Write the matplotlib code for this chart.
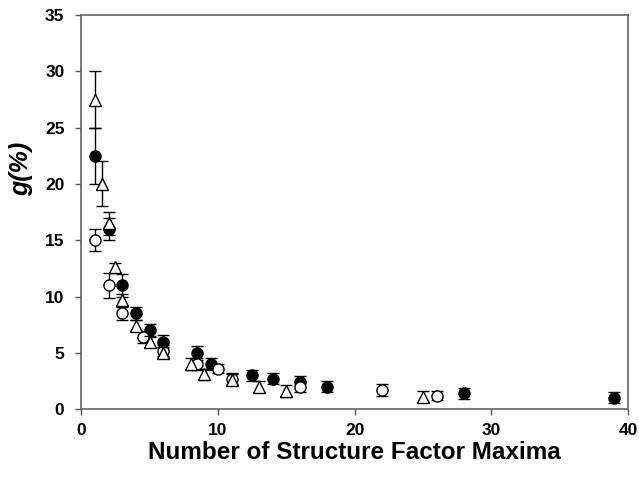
import matplotlib
matplotlib.use("Agg")
import matplotlib.pyplot as plt

plt.rcParams['font.family'] = ['Liberation Sans', 'DejaVu Sans']

# Filled circles
x_filled = [1, 2, 3, 4, 5, 6, 8.5, 9.5, 12.5, 14, 16, 18, 28, 39]
y_filled = [22.5, 16.0, 11.0, 8.5, 7.0, 6.0, 5.0, 4.0, 3.0, 2.7, 2.4, 2.0, 1.4, 1.0]
e_filled = [2.5, 1.0, 1.0, 0.6, 0.6, 0.6, 0.6, 0.5, 0.5, 0.5, 0.5, 0.5, 0.5, 0.5]

# Open circles
x_open = [1, 2, 3, 4.5, 6, 8.5, 10, 11, 16, 22, 26]
y_open = [15.0, 11.0, 8.5, 6.4, 5.2, 4.0, 3.6, 2.7, 2.0, 1.7, 1.2]
e_open = [1.0, 1.1, 0.55, 0.5, 0.5, 0.5, 0.4, 0.5, 0.5, 0.5, 0.4]

# Open triangles
x_tri = [1, 1.5, 2, 2.5, 3, 4, 5, 6, 8, 9, 11, 13, 15, 25]
y_tri = [27.5, 20.0, 16.5, 12.6, 9.7, 7.4, 6.0, 5.0, 4.0, 3.1, 2.6, 2.0, 1.6, 1.1]
e_tri = [2.5, 2.0, 1.0, 0.4, 0.5, 0.5, 0.5, 0.5, 0.5, 0.5, 0.5, 0.5, 0.5, 0.5]

x_ticks = [0, 10, 20, 30, 40]
y_ticks = [0, 5, 10, 15, 20, 25, 30, 35]

fig = plt.figure(figsize=(6.39, 4.87), dpi=100)
ax = fig.add_axes([0.127, 0.160, 0.856, 0.809])

common = dict(linestyle='none', ecolor='black', elinewidth=1.0, capsize=4,
              capthick=1.0, markeredgecolor='black', markeredgewidth=1.0)
ax.errorbar(x_filled, y_filled, yerr=e_filled, fmt='o', markersize=8,
            markerfacecolor='black', zorder=3, **common)
ax.errorbar(x_open, y_open, yerr=e_open, fmt='o', markersize=8,
            markerfacecolor='white', zorder=4, **common)
ax.errorbar(x_tri, y_tri, yerr=e_tri, fmt='^', markersize=8,
            markerfacecolor='white', zorder=5, **common)

ax.set_xlim(0, 40)
ax.set_ylim(0, 35)
ax.set_xticks(x_ticks)
ax.set_yticks(y_ticks)
ax.tick_params(direction='out', length=4, width=1, color='#555555',
               labelsize=12.5)
ax.tick_params(axis='y', pad=8)
ax.tick_params(axis='x', pad=6)
for lab in ax.get_xticklabels() + ax.get_yticklabels():
    lab.set_fontweight('bold')
for sp in ax.spines.values():
    sp.set_color('#666666')
    sp.set_linewidth(1.2)

ax.set_xlabel('Number of Structure Factor Maxima', fontsize=17.5,
              fontweight='bold', labelpad=2)
ax.set_ylabel('g(%)', fontsize=18, fontweight='bold', fontstyle='italic')
ax.yaxis.set_label_coords(-0.088, 0.61)

fig.savefig('out.png', dpi=100)
